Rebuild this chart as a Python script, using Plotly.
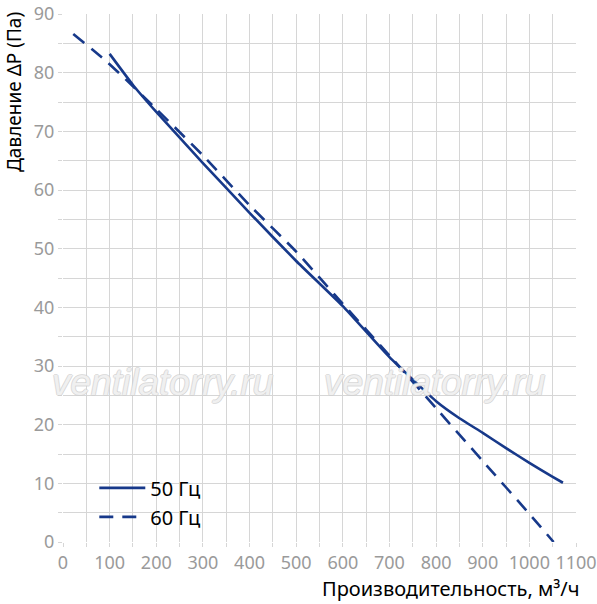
import plotly.graph_objects as go

# 50 Hz curve
x50 = [100, 150, 200, 300, 400, 500, 600, 700, 800, 850, 900, 950, 1000, 1050, 1072]
y50 = [83.2, 77.9, 73.3, 64.6, 56.1, 47.9, 40.2, 31.5, 24.0, 21.1, 18.6, 16.0, 13.5, 11.1, 10.1]
# 60 Hz curve
x60 = [22, 92, 134, 200, 300, 400, 500, 600, 700, 800, 900, 1000, 1052]
y60 = [86.6, 82.0, 78.9, 73.8, 65.9, 57.4, 49.5, 40.6, 31.8, 22.8, 13.8, 4.8, 0.0]

x_ticks = [0, 100, 200, 300, 400, 500, 600, 700, 800, 900, 1000, 1100]
y_ticks = [0, 10, 20, 30, 40, 50, 60, 70, 80, 90]

LINE = "#17398a"
GRID = "#d6d6d6"
TICKC = "#9a9a9a"
FONT = "Noto Sans"

fig = go.Figure()
fig.add_trace(go.Scatter(x=x50, y=y50, mode="lines", name="50 Гц",
                         line=dict(color=LINE, width=2.6, shape="spline", smoothing=0.4)))
fig.add_trace(go.Scatter(x=x60, y=y60, mode="lines", name="60 Гц",
                         line=dict(color=LINE, width=2.6, dash="14px,9px", shape="spline", smoothing=0.4)))

axis_common = dict(showline=False, zeroline=False, gridcolor=GRID, gridwidth=1.4,
                   ticks="outside", ticklen=4, tickcolor=GRID, tickwidth=1.4, automargin=False,
                   tickfont=dict(family=FONT, size=18, color=TICKC))

fig.update_xaxes(range=[0, 1100], tickvals=x_ticks, ticktext=[str(v) for v in x_ticks],
                 minor=dict(dtick=50, tick0=0, showgrid=True, gridcolor=GRID, gridwidth=1.4,
                            ticks="outside", ticklen=4, tickcolor=GRID),
                 **axis_common)
fig.update_yaxes(range=[0, 90], tickvals=y_ticks, ticktext=[str(v) for v in y_ticks],
                 minor=dict(dtick=5, tick0=0, showgrid=True, gridcolor=GRID, gridwidth=1.4,
                            ticks="outside", ticklen=4, tickcolor=GRID),
                 **axis_common)

WM_FONT = dict(family="Liberation Sans", size=37, style="italic", color="rgba(255,255,255,0.7)",
               shadow="1px 0 0 #cfcfcf, -1px 0 0 #cfcfcf, 0 1px 0 #cfcfcf, 0 -1px 0 #cfcfcf")

fig.update_layout(
    width=597, height=604,
    margin=dict(l=63, r=21, t=14, b=62, autoexpand=False),
    paper_bgcolor="white", plot_bgcolor="white",
    font=dict(family=FONT, color="black"),
    showlegend=True,
    legend=dict(x=0.061, y=0.075, xanchor="left", yanchor="middle", itemwidth=46,
                bgcolor="rgba(255,255,255,0)", font=dict(family=FONT, size=20, color="black"),
                tracegroupgap=0),
    annotations=[
        dict(text="Давление ΔP (Па)", xref="paper", yref="paper", x=-0.0955, y=1.0076,
             xanchor="center", yanchor="top", textangle=-90, showarrow=False,
             font=dict(family=FONT, size=19, color="black")),
        dict(text="Производительность, м³/ч", xref="paper", yref="paper", x=1.0117, y=-0.089,
             xanchor="right", yanchor="middle", showarrow=False,
             font=dict(family=FONT, size=20, color="black")),
        dict(text="ventilatorry.ru", xref="paper", yref="paper", x=(162 - 63) / 513, y=(542 - 382) / 528,
             xanchor="center", yanchor="middle", showarrow=False, font=WM_FONT),
        dict(text="ventilatorry.ru", xref="paper", yref="paper", x=(434 - 63) / 513, y=(542 - 382) / 528,
             xanchor="center", yanchor="middle", showarrow=False, font=WM_FONT),
    ],
)

fig.write_html("out.html", config={"displayModeBar": False},
               post_script="document.body.style.margin='0';document.body.style.padding='0';")
